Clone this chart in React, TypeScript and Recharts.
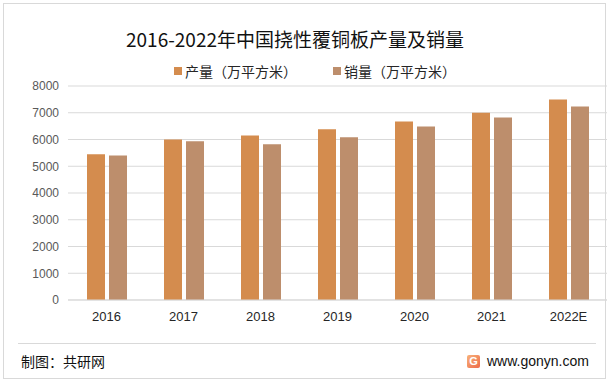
import { BarChart, Bar, XAxis, YAxis, CartesianGrid } from "recharts";

const years = ["2016", "2017", "2018", "2019", "2020", "2021", "2022E"];
const output = [5450, 6000, 6150, 6380, 6670, 7000, 7500];
const sales = [5400, 5930, 5820, 6080, 6490, 6820, 7230];
const yTicks = [0, 1000, 2000, 3000, 4000, 5000, 6000, 7000, 8000];

const data = years.map((year, i) => ({
  year,
  output: output[i],
  sales: sales[i],
}));

const CJK = "'Noto Sans CJK SC', 'Liberation Sans', sans-serif";

const LegendBox = () => (
  <div style={{ position: "absolute", left: 0, top: 61, width: 612, height: 20, fontFamily: CJK, fontSize: 14, color: "#262626" }}>
    <div style={{ position: "absolute", left: 174, top: 0, display: "flex", alignItems: "center" }}>
      <span style={{ width: 8, height: 8, background: "#D48C4E", marginRight: 3 }} />
      产量（万平方米）
    </div>
    <div style={{ position: "absolute", left: 333, top: 0, display: "flex", alignItems: "center" }}>
      <span style={{ width: 8, height: 8, background: "#BD8E6C", marginRight: 3 }} />
      销量（万平方米）
    </div>
  </div>
);

export default function App() {
  return (
    <div style={{ position: "absolute", left: 0, top: 0, width: 612, height: 385, background: "#fff" }}>
      <div
        style={{
          position: "absolute",
          left: 3,
          top: 3,
          width: 603,
          height: 376,
          border: "1px solid #d9d9d9",
          boxSizing: "border-box",
        }}
      />
      <div
        style={{
          position: "absolute",
          left: 0,
          width: 590,
          top: 26,
          textAlign: "center",
          fontFamily: CJK,
          fontSize: 19,
          color: "#111",
          lineHeight: "26px",
        }}
      >
        2016-2022年中国挠性覆铜板产量及销量
      </div>
      <LegendBox />
      <div style={{ position: "absolute", left: 0, top: 0 }}>
        <BarChart
          width={612}
          height={385}
          data={data}
          margin={{ top: 86, right: 5, left: 8, bottom: 55 }}
          barSize={18}
          barGap={4}
        >
          <CartesianGrid vertical={false} stroke="#d9d9d9" />
          <XAxis
            dataKey="year"
            axisLine={{ stroke: "#d9d9d9" }}
            tickLine={false}
            tickMargin={6}
            tick={{ fill: "#262626", fontSize: 13, fontFamily: "'Liberation Sans', sans-serif" }}
          />
          <YAxis
            width={60}
            domain={[0, 8000]}
            ticks={yTicks}
            axisLine={false}
            tickLine={false}
            tickMargin={3}
            tick={{ fill: "#595959", fontSize: 12, fontFamily: "'Liberation Sans', sans-serif" }}
          />
          <Bar dataKey="output" name="产量（万平方米）" fill="#D48C4E" isAnimationActive={false} />
          <Bar dataKey="sales" name="销量（万平方米）" fill="#BD8E6C" isAnimationActive={false} />
        </BarChart>
      </div>
      <div
        style={{
          position: "absolute",
          left: 18,
          top: 343,
          width: 578,
          borderTop: "1px solid #d9d9d9",
        }}
      />
      <div
        style={{
          position: "absolute",
          left: 21,
          top: 351,
          fontFamily: CJK,
          fontSize: 14,
          color: "#111",
          lineHeight: "20px",
        }}
      >
        制图：共研网
      </div>
      <div
        style={{
          position: "absolute",
          left: 467,
          top: 355,
          width: 13,
          height: 13,
          borderRadius: 2,
          background: "linear-gradient(135deg, #f7b27a, #ee6a4a)",
          color: "#fff",
          fontSize: 11,
          fontWeight: "bold",
          fontFamily: "'Liberation Sans', sans-serif",
          textAlign: "center",
          lineHeight: "13px",
        }}
      >
        G
      </div>
      <div
        style={{
          position: "absolute",
          left: 487,
          top: 351,
          fontFamily: "'Liberation Sans', sans-serif",
          fontSize: 14,
          color: "#111",
          lineHeight: "20px",
        }}
      >
        www.gonyn.com
      </div>
    </div>
  );
}
